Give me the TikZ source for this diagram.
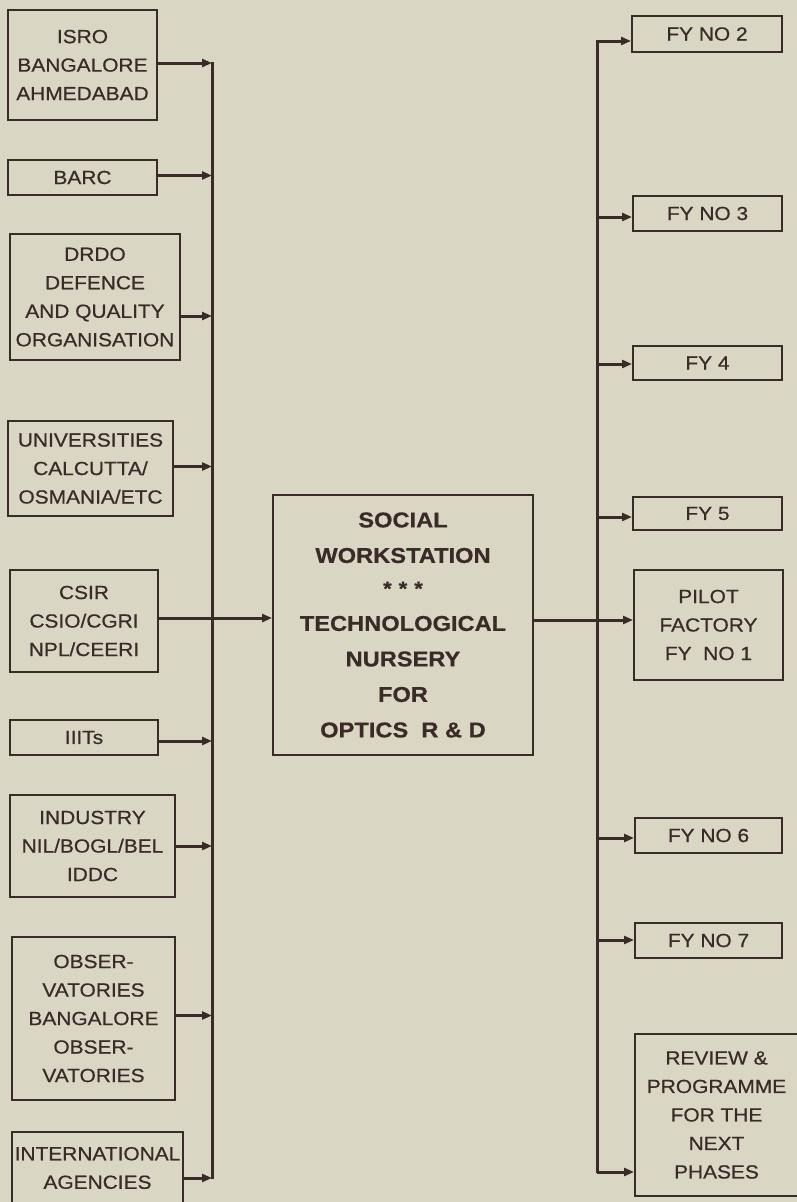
\documentclass[tikz,border=0pt]{standalone}
\usepackage{fontspec}
\setmainfont{Liberation Sans}[FakeStretch=1.1, FakeBold=0.6]
\usetikzlibrary{arrows.meta, positioning}
\definecolor{ink}{RGB}{58,42,40}
\definecolor{paper}{RGB}{218,214,196}

\begin{document}
\begin{tikzpicture}[
  x=1pt, y=-1pt,
  src/.style={draw=ink, line width=2pt, rectangle, inner sep=0pt,
              align=center, text=ink, font=\fontsize{19}{28.5}\selectfont},
  hubbox/.style={src, font=\fontsize{21.5}{35.5}\selectfont\bfseries},
  arr/.style={draw=ink, line width=3pt, -{Triangle[length=10pt,width=8pt]}},
  bus/.style={draw=ink, line width=3pt},
]
\fill[paper] (0,0) rectangle (797,1202);
\useasboundingbox (0,0) rectangle (797,1202);

%% Sources
\node[src, minimum width=149pt, minimum height=110pt] (isro) at (82.5,65)
  {ISRO\\BANGALORE\\AHMEDABAD};
\node[src, minimum width=149pt, minimum height=35pt] (barc) at (82.5,177.5)
  {BARC};
\node[src, minimum width=170pt, minimum height=126pt] (drdo) at (95,297)
  {DRDO\\DEFENCE\\AND QUALITY\\ORGANISATION};
\node[src, minimum width=165pt, minimum height=95pt] (univ) at (90.5,468.5)
  {UNIVERSITIES\\CALCUTTA/\\OSMANIA/ETC};
\node[src, minimum width=148pt, minimum height=102pt] (csir) at (84,621)
  {CSIR\\CSIO/CGRI\\NPL/CEERI};
\node[src, minimum width=148pt, minimum height=35pt] (iiits) at (84,737.5)
  {IIITs};
\node[src, minimum width=165pt, minimum height=102pt] (ind) at (92.5,846)
  {INDUSTRY\\NIL/BOGL/BEL\\IDDC};
\node[src, minimum width=163pt, minimum height=163pt] (obs) at (93.5,1018.5)
  {OBSER-\\VATORIES\\BANGALORE\\OBSER-\\VATORIES};
\node[src, minimum width=171pt, minimum height=72pt] (intl) at (97.5,1168)
  {INTERNATIONAL\\AGENCIES};

%% Workstation
\node[hubbox, minimum width=260pt, minimum height=260pt] (hub) at (403,625)
  {SOCIAL\\WORKSTATION\\[-3pt]{\fontsize{20}{20}\selectfont *\hspace{7pt}*\hspace{7pt}*}\\[0pt]
   TECHNOLOGICAL\\NURSERY\\FOR\\OPTICS~~R \& D};

%% Factories
\node[src, minimum width=150pt, minimum height=36pt] (fy2) at (707,34)
  {FY NO 2};
\node[src, minimum width=149pt, minimum height=35pt] (fy3) at (707.5,213.5)
  {FY NO 3};
\node[src, minimum width=149pt, minimum height=34pt] (fy4) at (707.5,363)
  {FY 4};
\node[src, minimum width=149pt, minimum height=33pt] (fy5) at (707.5,513.5)
  {FY 5};
\node[src, minimum width=149pt, minimum height=110pt] (pilot) at (708.5,625)
  {PILOT\\FACTORY\\FY~~NO 1};
\node[src, minimum width=147pt, minimum height=35pt] (fy6) at (708.5,835.5)
  {FY NO 6};
\node[src, minimum width=147pt, minimum height=35pt] (fy7) at (708.5,940.5)
  {FY NO 7};
\node[src, minimum width=163pt, minimum height=162pt] (review) at (716.5,1115)
  {REVIEW \&\\PROGRAMME\\FOR THE\\NEXT\\PHASES};

%% Buses
\coordinate (lbus) at (212,0);
\coordinate (rbus) at (597,0);
\draw[bus] (212,62) -- (212,1179);
\draw[bus] (597,40) -- (597,1173);

%% Sources to bus
\foreach \n/\s in {isro/2,barc/2,drdo/-19,univ/2,iiits/-3.5,ind/0,obs/3,intl/-10}
  \draw[arr] ([yshift=\s pt]\n.east) coordinate (a) -- (a -| lbus);
\draw[arr] ([yshift=3pt]csir.east) coordinate (c) -- (c -| hub.west);

%% Workstation to factories
\draw[arr] ([yshift=5pt]hub.east) coordinate (h) -- (h -| pilot.west);
\foreach \n/\s in {fy2/-7,fy3/-3.5,fy4/-1,fy5/-3.5,fy6/-2.5,fy7/0.5,review/-57}
  \draw[arr] ([yshift=\s pt]\n.west) coordinate (b) (b -| rbus) -- (b);
\end{tikzpicture}
\end{document}
